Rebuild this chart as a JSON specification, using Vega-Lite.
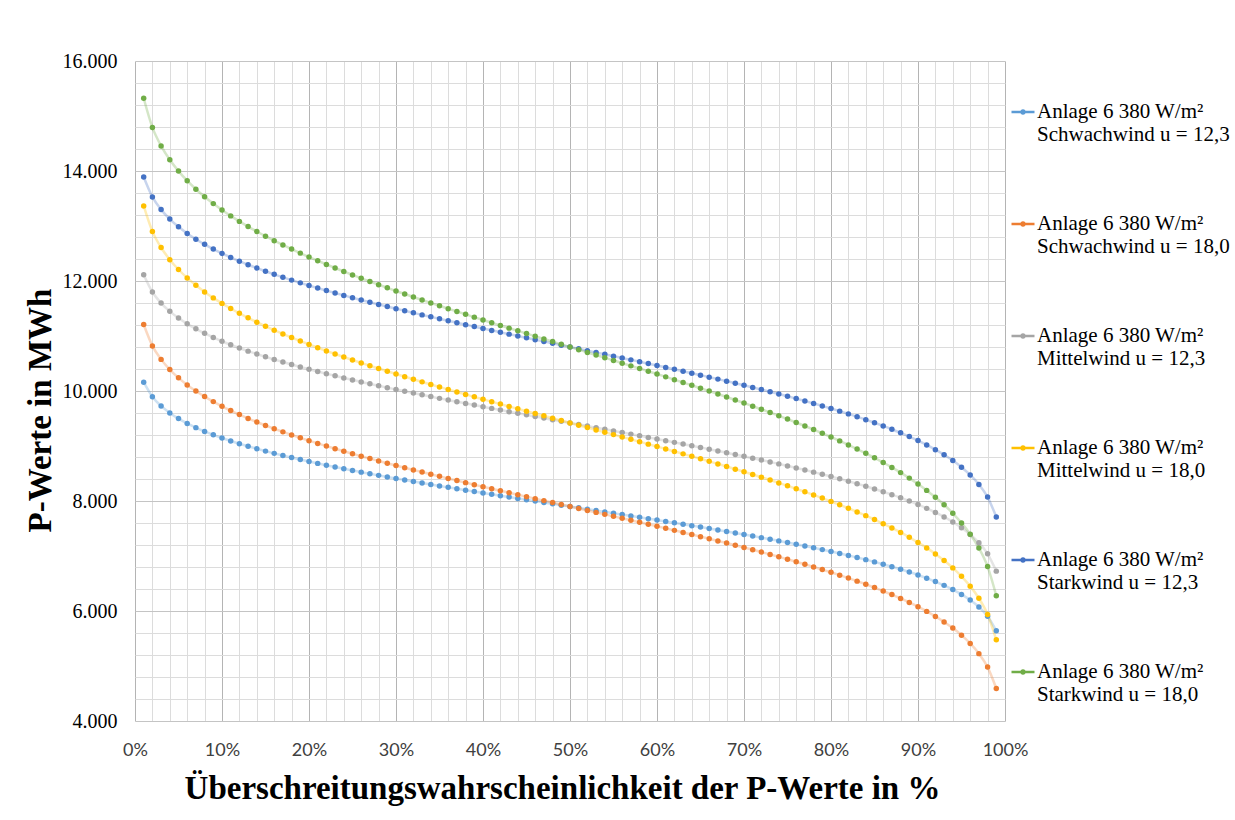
{
  "$schema": "https://vega.github.io/schema/vega-lite/v6.json",
  "autosize": {"type": "none"},
  "padding": {"left": 135, "top": 61, "right": 230, "bottom": 99},
  "width": 870,
  "height": 660,
  "background": "white",
  "config": {
    "view": {"stroke": null},
    "font": "Liberation Serif"
  },
  "data": {
    "values": [
      {"p":1,"k":"a","v":10161},{"p":2,"k":"a","v":9896},{"p":3,"k":"a","v":9728},{"p":4,"k":"a","v":9601},{"p":5,"k":"a","v":9498},{"p":6,"k":"a","v":9411},{"p":7,"k":"a","v":9334},{"p":8,"k":"a","v":9265},{"p":9,"k":"a","v":9203},{"p":10,"k":"a","v":9145},
      {"p":11,"k":"a","v":9092},{"p":12,"k":"a","v":9042},{"p":13,"k":"a","v":8995},{"p":14,"k":"a","v":8950},{"p":15,"k":"a","v":8907},{"p":16,"k":"a","v":8866},{"p":17,"k":"a","v":8827},{"p":18,"k":"a","v":8790},{"p":19,"k":"a","v":8753},{"p":20,"k":"a","v":8718},
      {"p":21,"k":"a","v":8684},{"p":22,"k":"a","v":8650},{"p":23,"k":"a","v":8618},{"p":24,"k":"a","v":8586},{"p":25,"k":"a","v":8555},{"p":26,"k":"a","v":8525},{"p":27,"k":"a","v":8495},{"p":28,"k":"a","v":8466},{"p":29,"k":"a","v":8438},{"p":30,"k":"a","v":8410},
      {"p":31,"k":"a","v":8382},{"p":32,"k":"a","v":8354},{"p":33,"k":"a","v":8327},{"p":34,"k":"a","v":8301},{"p":35,"k":"a","v":8274},{"p":36,"k":"a","v":8248},{"p":37,"k":"a","v":8223},{"p":38,"k":"a","v":8197},{"p":39,"k":"a","v":8171},{"p":40,"k":"a","v":8146},
      {"p":41,"k":"a","v":8121},{"p":42,"k":"a","v":8096},{"p":43,"k":"a","v":8071},{"p":44,"k":"a","v":8047},{"p":45,"k":"a","v":8022},{"p":46,"k":"a","v":7998},{"p":47,"k":"a","v":7973},{"p":48,"k":"a","v":7949},{"p":49,"k":"a","v":7924},{"p":50,"k":"a","v":7900},
      {"p":51,"k":"a","v":7876},{"p":52,"k":"a","v":7851},{"p":53,"k":"a","v":7827},{"p":54,"k":"a","v":7802},{"p":55,"k":"a","v":7778},{"p":56,"k":"a","v":7753},{"p":57,"k":"a","v":7729},{"p":58,"k":"a","v":7704},{"p":59,"k":"a","v":7679},{"p":60,"k":"a","v":7654},
      {"p":61,"k":"a","v":7629},{"p":62,"k":"a","v":7603},{"p":63,"k":"a","v":7577},{"p":64,"k":"a","v":7552},{"p":65,"k":"a","v":7526},{"p":66,"k":"a","v":7499},{"p":67,"k":"a","v":7473},{"p":68,"k":"a","v":7446},{"p":69,"k":"a","v":7418},{"p":70,"k":"a","v":7390},
      {"p":71,"k":"a","v":7362},{"p":72,"k":"a","v":7334},{"p":73,"k":"a","v":7305},{"p":74,"k":"a","v":7275},{"p":75,"k":"a","v":7245},{"p":76,"k":"a","v":7214},{"p":77,"k":"a","v":7182},{"p":78,"k":"a","v":7150},{"p":79,"k":"a","v":7116},{"p":80,"k":"a","v":7082},
      {"p":81,"k":"a","v":7047},{"p":82,"k":"a","v":7010},{"p":83,"k":"a","v":6973},{"p":84,"k":"a","v":6934},{"p":85,"k":"a","v":6893},{"p":86,"k":"a","v":6850},{"p":87,"k":"a","v":6805},{"p":88,"k":"a","v":6758},{"p":89,"k":"a","v":6708},{"p":90,"k":"a","v":6655},
      {"p":91,"k":"a","v":6597},{"p":92,"k":"a","v":6535},{"p":93,"k":"a","v":6466},{"p":94,"k":"a","v":6389},{"p":95,"k":"a","v":6302},{"p":96,"k":"a","v":6199},{"p":97,"k":"a","v":6072},{"p":98,"k":"a","v":5904},{"p":99,"k":"a","v":5639},

      {"p":1,"k":"b","v":11208},{"p":2,"k":"b","v":10820},{"p":3,"k":"b","v":10575},{"p":4,"k":"b","v":10390},{"p":5,"k":"b","v":10239},{"p":6,"k":"b","v":10111},{"p":7,"k":"b","v":9999},{"p":8,"k":"b","v":9898},{"p":9,"k":"b","v":9807},{"p":10,"k":"b","v":9722},
      {"p":11,"k":"b","v":9644},{"p":12,"k":"b","v":9571},{"p":13,"k":"b","v":9502},{"p":14,"k":"b","v":9436},{"p":15,"k":"b","v":9374},{"p":16,"k":"b","v":9314},{"p":17,"k":"b","v":9257},{"p":18,"k":"b","v":9202},{"p":19,"k":"b","v":9148},{"p":20,"k":"b","v":9097},
      {"p":21,"k":"b","v":9047},{"p":22,"k":"b","v":8998},{"p":23,"k":"b","v":8951},{"p":24,"k":"b","v":8904},{"p":25,"k":"b","v":8859},{"p":26,"k":"b","v":8815},{"p":27,"k":"b","v":8771},{"p":28,"k":"b","v":8729},{"p":29,"k":"b","v":8687},{"p":30,"k":"b","v":8646},
      {"p":31,"k":"b","v":8605},{"p":32,"k":"b","v":8565},{"p":33,"k":"b","v":8526},{"p":34,"k":"b","v":8487},{"p":35,"k":"b","v":8448},{"p":36,"k":"b","v":8410},{"p":37,"k":"b","v":8372},{"p":38,"k":"b","v":8334},{"p":39,"k":"b","v":8297},{"p":40,"k":"b","v":8260},
      {"p":41,"k":"b","v":8224},{"p":42,"k":"b","v":8187},{"p":43,"k":"b","v":8151},{"p":44,"k":"b","v":8115},{"p":45,"k":"b","v":8079},{"p":46,"k":"b","v":8043},{"p":47,"k":"b","v":8007},{"p":48,"k":"b","v":7971},{"p":49,"k":"b","v":7936},{"p":50,"k":"b","v":7900},
      {"p":51,"k":"b","v":7864},{"p":52,"k":"b","v":7829},{"p":53,"k":"b","v":7793},{"p":54,"k":"b","v":7757},{"p":55,"k":"b","v":7721},{"p":56,"k":"b","v":7685},{"p":57,"k":"b","v":7649},{"p":58,"k":"b","v":7613},{"p":59,"k":"b","v":7576},{"p":60,"k":"b","v":7540},
      {"p":61,"k":"b","v":7503},{"p":62,"k":"b","v":7466},{"p":63,"k":"b","v":7428},{"p":64,"k":"b","v":7390},{"p":65,"k":"b","v":7352},{"p":66,"k":"b","v":7313},{"p":67,"k":"b","v":7274},{"p":68,"k":"b","v":7235},{"p":69,"k":"b","v":7195},{"p":70,"k":"b","v":7154},
      {"p":71,"k":"b","v":7113},{"p":72,"k":"b","v":7071},{"p":73,"k":"b","v":7029},{"p":74,"k":"b","v":6985},{"p":75,"k":"b","v":6941},{"p":76,"k":"b","v":6896},{"p":77,"k":"b","v":6849},{"p":78,"k":"b","v":6802},{"p":79,"k":"b","v":6753},{"p":80,"k":"b","v":6703},
      {"p":81,"k":"b","v":6652},{"p":82,"k":"b","v":6598},{"p":83,"k":"b","v":6543},{"p":84,"k":"b","v":6486},{"p":85,"k":"b","v":6426},{"p":86,"k":"b","v":6364},{"p":87,"k":"b","v":6298},{"p":88,"k":"b","v":6229},{"p":89,"k":"b","v":6156},{"p":90,"k":"b","v":6078},
      {"p":91,"k":"b","v":5993},{"p":92,"k":"b","v":5902},{"p":93,"k":"b","v":5801},{"p":94,"k":"b","v":5689},{"p":95,"k":"b","v":5561},{"p":96,"k":"b","v":5410},{"p":97,"k":"b","v":5225},{"p":98,"k":"b","v":4980},{"p":99,"k":"b","v":4592},

      {"p":1,"k":"c","v":12115},{"p":2,"k":"c","v":11800},{"p":3,"k":"c","v":11599},{"p":4,"k":"c","v":11448},{"p":5,"k":"c","v":11326},{"p":6,"k":"c","v":11221},{"p":7,"k":"c","v":11130},{"p":8,"k":"c","v":11048},{"p":9,"k":"c","v":10974},{"p":10,"k":"c","v":10905},
      {"p":11,"k":"c","v":10841},{"p":12,"k":"c","v":10781},{"p":13,"k":"c","v":10725},{"p":14,"k":"c","v":10672},{"p":15,"k":"c","v":10621},{"p":16,"k":"c","v":10572},{"p":17,"k":"c","v":10526},{"p":18,"k":"c","v":10481},{"p":19,"k":"c","v":10437},{"p":20,"k":"c","v":10395},
      {"p":21,"k":"c","v":10354},{"p":22,"k":"c","v":10315},{"p":23,"k":"c","v":10276},{"p":24,"k":"c","v":10238},{"p":25,"k":"c","v":10202},{"p":26,"k":"c","v":10165},{"p":27,"k":"c","v":10130},{"p":28,"k":"c","v":10095},{"p":29,"k":"c","v":10061},{"p":30,"k":"c","v":10028},
      {"p":31,"k":"c","v":9995},{"p":32,"k":"c","v":9962},{"p":33,"k":"c","v":9930},{"p":34,"k":"c","v":9898},{"p":35,"k":"c","v":9866},{"p":36,"k":"c","v":9835},{"p":37,"k":"c","v":9805},{"p":38,"k":"c","v":9774},{"p":39,"k":"c","v":9744},{"p":40,"k":"c","v":9713},
      {"p":41,"k":"c","v":9684},{"p":42,"k":"c","v":9654},{"p":43,"k":"c","v":9624},{"p":44,"k":"c","v":9595},{"p":45,"k":"c","v":9566},{"p":46,"k":"c","v":9536},{"p":47,"k":"c","v":9507},{"p":48,"k":"c","v":9478},{"p":49,"k":"c","v":9449},{"p":50,"k":"c","v":9420},
      {"p":51,"k":"c","v":9391},{"p":52,"k":"c","v":9362},{"p":53,"k":"c","v":9333},{"p":54,"k":"c","v":9304},{"p":55,"k":"c","v":9274},{"p":56,"k":"c","v":9245},{"p":57,"k":"c","v":9216},{"p":58,"k":"c","v":9186},{"p":59,"k":"c","v":9156},{"p":60,"k":"c","v":9127},
      {"p":61,"k":"c","v":9096},{"p":62,"k":"c","v":9066},{"p":63,"k":"c","v":9035},{"p":64,"k":"c","v":9005},{"p":65,"k":"c","v":8974},{"p":66,"k":"c","v":8942},{"p":67,"k":"c","v":8910},{"p":68,"k":"c","v":8878},{"p":69,"k":"c","v":8845},{"p":70,"k":"c","v":8812},
      {"p":71,"k":"c","v":8779},{"p":72,"k":"c","v":8745},{"p":73,"k":"c","v":8710},{"p":74,"k":"c","v":8675},{"p":75,"k":"c","v":8638},{"p":76,"k":"c","v":8602},{"p":77,"k":"c","v":8564},{"p":78,"k":"c","v":8525},{"p":79,"k":"c","v":8486},{"p":80,"k":"c","v":8445},
      {"p":81,"k":"c","v":8403},{"p":82,"k":"c","v":8359},{"p":83,"k":"c","v":8314},{"p":84,"k":"c","v":8268},{"p":85,"k":"c","v":8219},{"p":86,"k":"c","v":8168},{"p":87,"k":"c","v":8115},{"p":88,"k":"c","v":8059},{"p":89,"k":"c","v":7999},{"p":90,"k":"c","v":7935},
      {"p":91,"k":"c","v":7866},{"p":92,"k":"c","v":7792},{"p":93,"k":"c","v":7710},{"p":94,"k":"c","v":7619},{"p":95,"k":"c","v":7514},{"p":96,"k":"c","v":7392},{"p":97,"k":"c","v":7241},{"p":98,"k":"c","v":7040},{"p":99,"k":"c","v":6725},

      {"p":1,"k":"d","v":13364},{"p":2,"k":"d","v":12902},{"p":3,"k":"d","v":12609},{"p":4,"k":"d","v":12388},{"p":5,"k":"d","v":12209},{"p":6,"k":"d","v":12056},{"p":7,"k":"d","v":11922},{"p":8,"k":"d","v":11802},{"p":9,"k":"d","v":11693},{"p":10,"k":"d","v":11593},
      {"p":11,"k":"d","v":11500},{"p":12,"k":"d","v":11412},{"p":13,"k":"d","v":11330},{"p":14,"k":"d","v":11252},{"p":15,"k":"d","v":11177},{"p":16,"k":"d","v":11106},{"p":17,"k":"d","v":11038},{"p":18,"k":"d","v":10972},{"p":19,"k":"d","v":10909},{"p":20,"k":"d","v":10847},
      {"p":21,"k":"d","v":10787},{"p":22,"k":"d","v":10729},{"p":23,"k":"d","v":10673},{"p":24,"k":"d","v":10618},{"p":25,"k":"d","v":10564},{"p":26,"k":"d","v":10511},{"p":27,"k":"d","v":10459},{"p":28,"k":"d","v":10408},{"p":29,"k":"d","v":10358},{"p":30,"k":"d","v":10309},
      {"p":31,"k":"d","v":10261},{"p":32,"k":"d","v":10213},{"p":33,"k":"d","v":10166},{"p":34,"k":"d","v":10119},{"p":35,"k":"d","v":10073},{"p":36,"k":"d","v":10028},{"p":37,"k":"d","v":9983},{"p":38,"k":"d","v":9938},{"p":39,"k":"d","v":9894},{"p":40,"k":"d","v":9849},
      {"p":41,"k":"d","v":9806},{"p":42,"k":"d","v":9762},{"p":43,"k":"d","v":9719},{"p":44,"k":"d","v":9676},{"p":45,"k":"d","v":9633},{"p":46,"k":"d","v":9590},{"p":47,"k":"d","v":9548},{"p":48,"k":"d","v":9505},{"p":49,"k":"d","v":9463},{"p":50,"k":"d","v":9420},
      {"p":51,"k":"d","v":9377},{"p":52,"k":"d","v":9335},{"p":53,"k":"d","v":9292},{"p":54,"k":"d","v":9250},{"p":55,"k":"d","v":9207},{"p":56,"k":"d","v":9164},{"p":57,"k":"d","v":9121},{"p":58,"k":"d","v":9078},{"p":59,"k":"d","v":9034},{"p":60,"k":"d","v":8991},
      {"p":61,"k":"d","v":8946},{"p":62,"k":"d","v":8902},{"p":63,"k":"d","v":8857},{"p":64,"k":"d","v":8812},{"p":65,"k":"d","v":8767},{"p":66,"k":"d","v":8721},{"p":67,"k":"d","v":8674},{"p":68,"k":"d","v":8627},{"p":69,"k":"d","v":8579},{"p":70,"k":"d","v":8531},
      {"p":71,"k":"d","v":8482},{"p":72,"k":"d","v":8432},{"p":73,"k":"d","v":8381},{"p":74,"k":"d","v":8329},{"p":75,"k":"d","v":8276},{"p":76,"k":"d","v":8222},{"p":77,"k":"d","v":8167},{"p":78,"k":"d","v":8111},{"p":79,"k":"d","v":8053},{"p":80,"k":"d","v":7993},
      {"p":81,"k":"d","v":7931},{"p":82,"k":"d","v":7868},{"p":83,"k":"d","v":7802},{"p":84,"k":"d","v":7734},{"p":85,"k":"d","v":7663},{"p":86,"k":"d","v":7588},{"p":87,"k":"d","v":7510},{"p":88,"k":"d","v":7428},{"p":89,"k":"d","v":7340},{"p":90,"k":"d","v":7247},
      {"p":91,"k":"d","v":7147},{"p":92,"k":"d","v":7038},{"p":93,"k":"d","v":6918},{"p":94,"k":"d","v":6784},{"p":95,"k":"d","v":6631},{"p":96,"k":"d","v":6452},{"p":97,"k":"d","v":6231},{"p":98,"k":"d","v":5938},{"p":99,"k":"d","v":5476},

      {"p":1,"k":"e","v":13890},{"p":2,"k":"e","v":13528},{"p":3,"k":"e","v":13298},{"p":4,"k":"e","v":13126},{"p":5,"k":"e","v":12985},{"p":6,"k":"e","v":12865},{"p":7,"k":"e","v":12760},{"p":8,"k":"e","v":12667},{"p":9,"k":"e","v":12581},{"p":10,"k":"e","v":12502},
      {"p":11,"k":"e","v":12429},{"p":12,"k":"e","v":12361},{"p":13,"k":"e","v":12296},{"p":14,"k":"e","v":12235},{"p":15,"k":"e","v":12177},{"p":16,"k":"e","v":12121},{"p":17,"k":"e","v":12068},{"p":18,"k":"e","v":12016},{"p":19,"k":"e","v":11966},{"p":20,"k":"e","v":11918},
      {"p":21,"k":"e","v":11871},{"p":22,"k":"e","v":11826},{"p":23,"k":"e","v":11781},{"p":24,"k":"e","v":11738},{"p":25,"k":"e","v":11696},{"p":26,"k":"e","v":11655},{"p":27,"k":"e","v":11614},{"p":28,"k":"e","v":11574},{"p":29,"k":"e","v":11535},{"p":30,"k":"e","v":11497},
      {"p":31,"k":"e","v":11459},{"p":32,"k":"e","v":11421},{"p":33,"k":"e","v":11384},{"p":34,"k":"e","v":11348},{"p":35,"k":"e","v":11312},{"p":36,"k":"e","v":11276},{"p":37,"k":"e","v":11241},{"p":38,"k":"e","v":11206},{"p":39,"k":"e","v":11171},{"p":40,"k":"e","v":11136},
      {"p":41,"k":"e","v":11102},{"p":42,"k":"e","v":11068},{"p":43,"k":"e","v":11034},{"p":44,"k":"e","v":11001},{"p":45,"k":"e","v":10967},{"p":46,"k":"e","v":10933},{"p":47,"k":"e","v":10900},{"p":48,"k":"e","v":10867},{"p":49,"k":"e","v":10833},{"p":50,"k":"e","v":10800},
      {"p":51,"k":"e","v":10767},{"p":52,"k":"e","v":10733},{"p":53,"k":"e","v":10700},{"p":54,"k":"e","v":10667},{"p":55,"k":"e","v":10633},{"p":56,"k":"e","v":10599},{"p":57,"k":"e","v":10566},{"p":58,"k":"e","v":10532},{"p":59,"k":"e","v":10498},{"p":60,"k":"e","v":10464},
      {"p":61,"k":"e","v":10429},{"p":62,"k":"e","v":10394},{"p":63,"k":"e","v":10359},{"p":64,"k":"e","v":10324},{"p":65,"k":"e","v":10288},{"p":66,"k":"e","v":10252},{"p":67,"k":"e","v":10216},{"p":68,"k":"e","v":10179},{"p":69,"k":"e","v":10141},{"p":70,"k":"e","v":10103},
      {"p":71,"k":"e","v":10065},{"p":72,"k":"e","v":10026},{"p":73,"k":"e","v":9986},{"p":74,"k":"e","v":9945},{"p":75,"k":"e","v":9904},{"p":76,"k":"e","v":9862},{"p":77,"k":"e","v":9819},{"p":78,"k":"e","v":9774},{"p":79,"k":"e","v":9729},{"p":80,"k":"e","v":9682},
      {"p":81,"k":"e","v":9634},{"p":82,"k":"e","v":9584},{"p":83,"k":"e","v":9532},{"p":84,"k":"e","v":9479},{"p":85,"k":"e","v":9423},{"p":86,"k":"e","v":9365},{"p":87,"k":"e","v":9304},{"p":88,"k":"e","v":9239},{"p":89,"k":"e","v":9171},{"p":90,"k":"e","v":9098},
      {"p":91,"k":"e","v":9019},{"p":92,"k":"e","v":8933},{"p":93,"k":"e","v":8840},{"p":94,"k":"e","v":8735},{"p":95,"k":"e","v":8615},{"p":96,"k":"e","v":8474},{"p":97,"k":"e","v":8302},{"p":98,"k":"e","v":8072},{"p":99,"k":"e","v":7710},

      {"p":1,"k":"f","v":15322},{"p":2,"k":"f","v":14792},{"p":3,"k":"f","v":14456},{"p":4,"k":"f","v":14203},{"p":5,"k":"f","v":13998},{"p":6,"k":"f","v":13823},{"p":7,"k":"f","v":13669},{"p":8,"k":"f","v":13532},{"p":9,"k":"f","v":13407},{"p":10,"k":"f","v":13291},
      {"p":11,"k":"f","v":13184},{"p":12,"k":"f","v":13084},{"p":13,"k":"f","v":12990},{"p":14,"k":"f","v":12900},{"p":15,"k":"f","v":12815},{"p":16,"k":"f","v":12733},{"p":17,"k":"f","v":12655},{"p":18,"k":"f","v":12580},{"p":19,"k":"f","v":12507},{"p":20,"k":"f","v":12436},
      {"p":21,"k":"f","v":12368},{"p":22,"k":"f","v":12301},{"p":23,"k":"f","v":12236},{"p":24,"k":"f","v":12173},{"p":25,"k":"f","v":12111},{"p":26,"k":"f","v":12051},{"p":27,"k":"f","v":11991},{"p":28,"k":"f","v":11933},{"p":29,"k":"f","v":11876},{"p":30,"k":"f","v":11819},
      {"p":31,"k":"f","v":11764},{"p":32,"k":"f","v":11709},{"p":33,"k":"f","v":11655},{"p":34,"k":"f","v":11602},{"p":35,"k":"f","v":11549},{"p":36,"k":"f","v":11497},{"p":37,"k":"f","v":11445},{"p":38,"k":"f","v":11394},{"p":39,"k":"f","v":11343},{"p":40,"k":"f","v":11292},
      {"p":41,"k":"f","v":11242},{"p":42,"k":"f","v":11192},{"p":43,"k":"f","v":11143},{"p":44,"k":"f","v":11094},{"p":45,"k":"f","v":11044},{"p":46,"k":"f","v":10995},{"p":47,"k":"f","v":10946},{"p":48,"k":"f","v":10898},{"p":49,"k":"f","v":10849},{"p":50,"k":"f","v":10800},
      {"p":51,"k":"f","v":10751},{"p":52,"k":"f","v":10702},{"p":53,"k":"f","v":10654},{"p":54,"k":"f","v":10605},{"p":55,"k":"f","v":10556},{"p":56,"k":"f","v":10506},{"p":57,"k":"f","v":10457},{"p":58,"k":"f","v":10408},{"p":59,"k":"f","v":10358},{"p":60,"k":"f","v":10308},
      {"p":61,"k":"f","v":10257},{"p":62,"k":"f","v":10206},{"p":63,"k":"f","v":10155},{"p":64,"k":"f","v":10103},{"p":65,"k":"f","v":10051},{"p":66,"k":"f","v":9998},{"p":67,"k":"f","v":9945},{"p":68,"k":"f","v":9891},{"p":69,"k":"f","v":9836},{"p":70,"k":"f","v":9781},
      {"p":71,"k":"f","v":9724},{"p":72,"k":"f","v":9667},{"p":73,"k":"f","v":9609},{"p":74,"k":"f","v":9549},{"p":75,"k":"f","v":9489},{"p":76,"k":"f","v":9427},{"p":77,"k":"f","v":9364},{"p":78,"k":"f","v":9299},{"p":79,"k":"f","v":9232},{"p":80,"k":"f","v":9164},
      {"p":81,"k":"f","v":9093},{"p":82,"k":"f","v":9020},{"p":83,"k":"f","v":8945},{"p":84,"k":"f","v":8867},{"p":85,"k":"f","v":8785},{"p":86,"k":"f","v":8700},{"p":87,"k":"f","v":8610},{"p":88,"k":"f","v":8516},{"p":89,"k":"f","v":8416},{"p":90,"k":"f","v":8309},
      {"p":91,"k":"f","v":8193},{"p":92,"k":"f","v":8068},{"p":93,"k":"f","v":7931},{"p":94,"k":"f","v":7777},{"p":95,"k":"f","v":7602},{"p":96,"k":"f","v":7397},{"p":97,"k":"f","v":7144},{"p":98,"k":"f","v":6808},{"p":99,"k":"f","v":6278}
    ]
  },
  "encoding": {
    "x": {
      "field": "p",
      "type": "quantitative",
      "scale": {"domain": [0, 100], "nice": false, "zero": false},
      "axis": {
        "title": "Überschreitungswahrscheinlichkeit der P-Werte in %",
        "titleFont": "Liberation Serif",
        "titleFontSize": 33,
        "titleFontWeight": "bold",
        "titleColor": "#000000",
        "titleX": 427,
        "titleY": 77,
        "titleBaseline": "alphabetic",
        "titleAlign": "center",
        "values": [0,2,4,6,8,10,12,14,16,18,20,22,24,26,28,30,32,34,36,38,40,42,44,46,48,50,52,54,56,58,60,62,64,66,68,70,72,74,76,78,80,82,84,86,88,90,92,94,96,98,100],
        "labelExpr": "datum.value % 10 === 0 ? datum.value + '%' : ''",
        "labelFont": "Lato",
        "labelFontSize": 18,
        "labelColor": "#404040",
        "labelPadding": 20,
        "labelOverlap": false,
        "labelFlush": false,
        "ticks": false,
        "domain": false,
        "grid": true,
        "gridColor": {"condition": {"test": "datum.value % 10 === 0", "value": "#B4B4B4"}, "value": "#DCDCDC"},
        "gridWidth": 1,
        "gridOpacity": 1
      }
    },
    "y": {
      "field": "v",
      "type": "quantitative",
      "scale": {"domain": [4000, 16000], "nice": false, "zero": false},
      "axis": {
        "title": "P-Werte in MWh",
        "titleFont": "Liberation Serif",
        "titleFontSize": 33,
        "titleFontWeight": "bold",
        "titleColor": "#000000",
        "titleAngle": 270,
        "titleX": -85,
        "titleY": 349,
        "titleBaseline": "alphabetic",
        "titleAlign": "center",
        "values": [4000,4400,4800,5200,5600,6000,6400,6800,7200,7600,8000,8400,8800,9200,9600,10000,10400,10800,11200,11600,12000,12400,12800,13200,13600,14000,14400,14800,15200,15600,16000],
        "labelExpr": "datum.value % 2000 === 0 ? replace(format(datum.value, ','), ',', '.') : ''",
        "labelFont": "Liberation Serif",
        "labelFontSize": 20,
        "labelColor": "#000000",
        "labelPadding": 18,
        "labelOverlap": false,
        "labelFlush": false,
        "ticks": false,
        "domain": false,
        "grid": true,
        "gridColor": {"condition": {"test": "datum.value % 2000 === 0", "value": "#C4C4C4"}, "value": "#DCDCDC"},
        "gridWidth": 1,
        "gridOpacity": 1
      }
    },
    "color": {
      "field": "k",
      "type": "nominal",
      "scale": {
        "domain": ["a", "b", "c", "d", "e", "f"],
        "range": ["#5B9BD5", "#ED7D31", "#A5A5A5", "#FFC000", "#4472C4", "#70AD47"]
      },
      "legend": {
        "title": null,
        "orient": "none",
        "legendX": 875,
        "legendY": 38,
        "direction": "vertical",
        "labelExpr": "['Anlage 6 380 W/m²', datum.label == 'a' ? 'Schwachwind u = 12,3' : datum.label == 'b' ? 'Schwachwind u = 18,0' : datum.label == 'c' ? 'Mittelwind u = 12,3' : datum.label == 'd' ? 'Mittelwind u = 18,0' : datum.label == 'e' ? 'Starkwind u = 12,3' : 'Starkwind u = 18,0']",
        "labelFont": "Liberation Serif",
        "labelFontSize": 21,
        "labelColor": "#000000",
        "labelLimit": 0,
        "labelOffset": 1,
        "rowPadding": 66,
        "symbolType": "M-1,0H1M-0.12,0A0.12,0.12 0 1,0 0.12,0A0.12,0.12 0 1,0 -0.12,0Z",
        "symbolSize": 529,
        "symbolStrokeWidth": 2.5,
        "symbolOpacity": 1
      }
    }
  },
  "layer": [
    {
      "mark": {"type": "line", "interpolate": "monotone", "strokeWidth": 2.5, "opacity": 0.3}
    },
    {
      "mark": {"type": "point", "filled": true, "size": 30, "opacity": 1}
    }
  ]
}
